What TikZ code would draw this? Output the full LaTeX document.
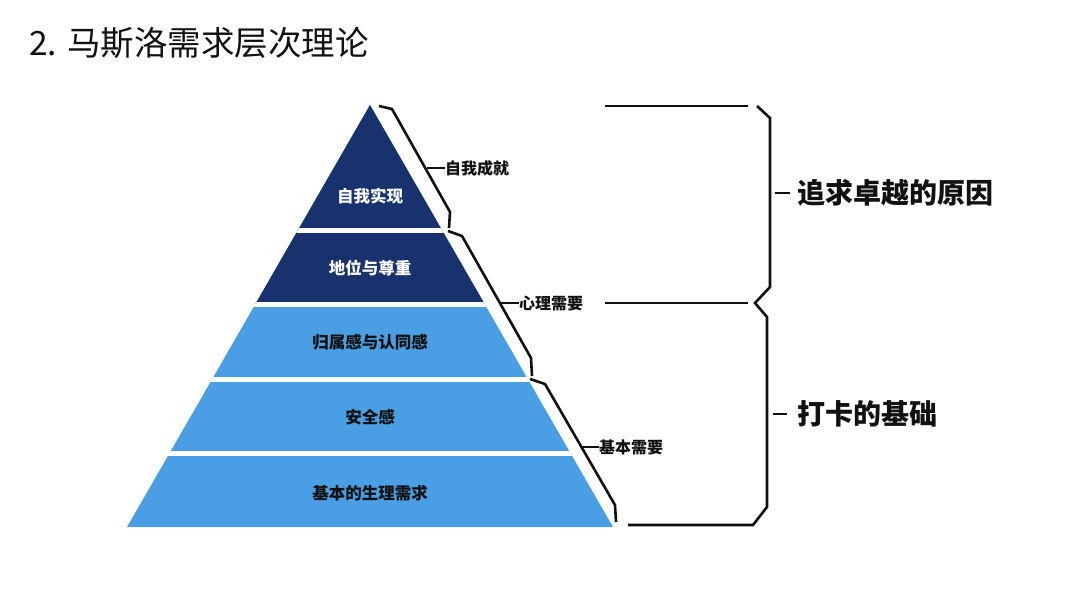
\documentclass[tikz,border=0pt]{standalone}
\usepackage{fontspec}
\setmainfont{Noto Sans CJK SC}
\usetikzlibrary{calc}
\definecolor{navy}{HTML}{18326E}
\definecolor{sky}{HTML}{4A9FE4}
\definecolor{ink}{HTML}{111111}
\begin{document}
\begin{tikzpicture}[x=1pt,y=-1pt,
  layertext/.style={inner sep=0pt,font=\fontsize{16.5}{17}\selectfont\bfseries},
  sidelabel/.style={inner sep=0pt,anchor=west,text=ink,font=\fontsize{16}{17}\selectfont\bfseries},
  biglabel/.style={inner sep=0pt,anchor=west,text=ink,font=\fontsize{28}{30}\selectfont\bfseries},
  bracketline/.style={draw=ink,line width=2.6pt,line join=miter}]
\useasboundingbox (0,0) rectangle (1080,607);
% title
\node[inner sep=0pt,anchor=west,text=ink,font=\fontsize{33.5}{36}\selectfont] (title) at (29,43) {2. 马斯洛需求层次理论};
% pyramid
\coordinate (A) at (370,105);
\coordinate (BL) at (127,527);
\coordinate (BR) at (613,527);
\fill[sky] (A) -- (BL) -- (BR) -- cycle;
\fill[navy] (A) -- ($(A)!0.4727!(BL)$) -- ($(A)!0.4727!(BR)$) -- cycle;
\begin{scope}
\clip (A) -- (BL) -- (BR) -- cycle;
\foreach \yy in {230.5,304.5,379.5,453.5}
  \draw[white,line width=4.5pt] (100,\yy) -- (640,\yy);
\end{scope}
\node[layertext,text=white] (l1) at (370,196) {自我实现};
\node[layertext,text=white] (l2) at (370,268) {地位与尊重};
\node[layertext,text=ink] (l3) at (370,342) {归属感与认同感};
\node[layertext,text=ink] (l4) at (370,417) {安全感};
\node[layertext,text=ink] (l5) at (370,493) {基本的生理需求};
% small brackets
\draw[bracketline] (379,106) -- (392,109) -- (450,212) -- (449,228);
\coordinate (t1) at (427,168);
\node[sidelabel] (s1) at (445,168) {自我成就};
\draw[bracketline] (t1) -- (s1.west);
\draw[bracketline] (448,231) -- (462,236) -- (531,358) -- (532,376);
\coordinate (t2) at (500,303);
\node[sidelabel] (s2) at (519,303) {心理需要};
\draw[bracketline] (t2) -- (s2.west);
\draw[bracketline] (530,379) -- (545,384) -- (615,505) -- (616,522);
\coordinate (t3) at (582,447);
\node[sidelabel] (s3) at (599,447) {基本需要};
\draw[bracketline] (t3) -- (s3.west);
% big brackets
\draw[bracketline] (605,106) -- (748,106);
\draw[bracketline] (605,303) -- (748,303);
\draw[bracketline] (757,106) -- (770,118) -- (770,287) -- (755,303) -- (767,317) -- (767,507) -- (753,525) -- (628,525);
\coordinate (b1) at (775,193);
\node[biglabel] (g1) at (797,193) {追求卓越的原因};
\draw[bracketline] (b1) -- ++(15,0);
\coordinate (b2) at (773,414);
\node[biglabel] (g2) at (797,414) {打卡的基础};
\draw[bracketline] (b2) -- ++(14,0);
\end{tikzpicture}
\end{document}
